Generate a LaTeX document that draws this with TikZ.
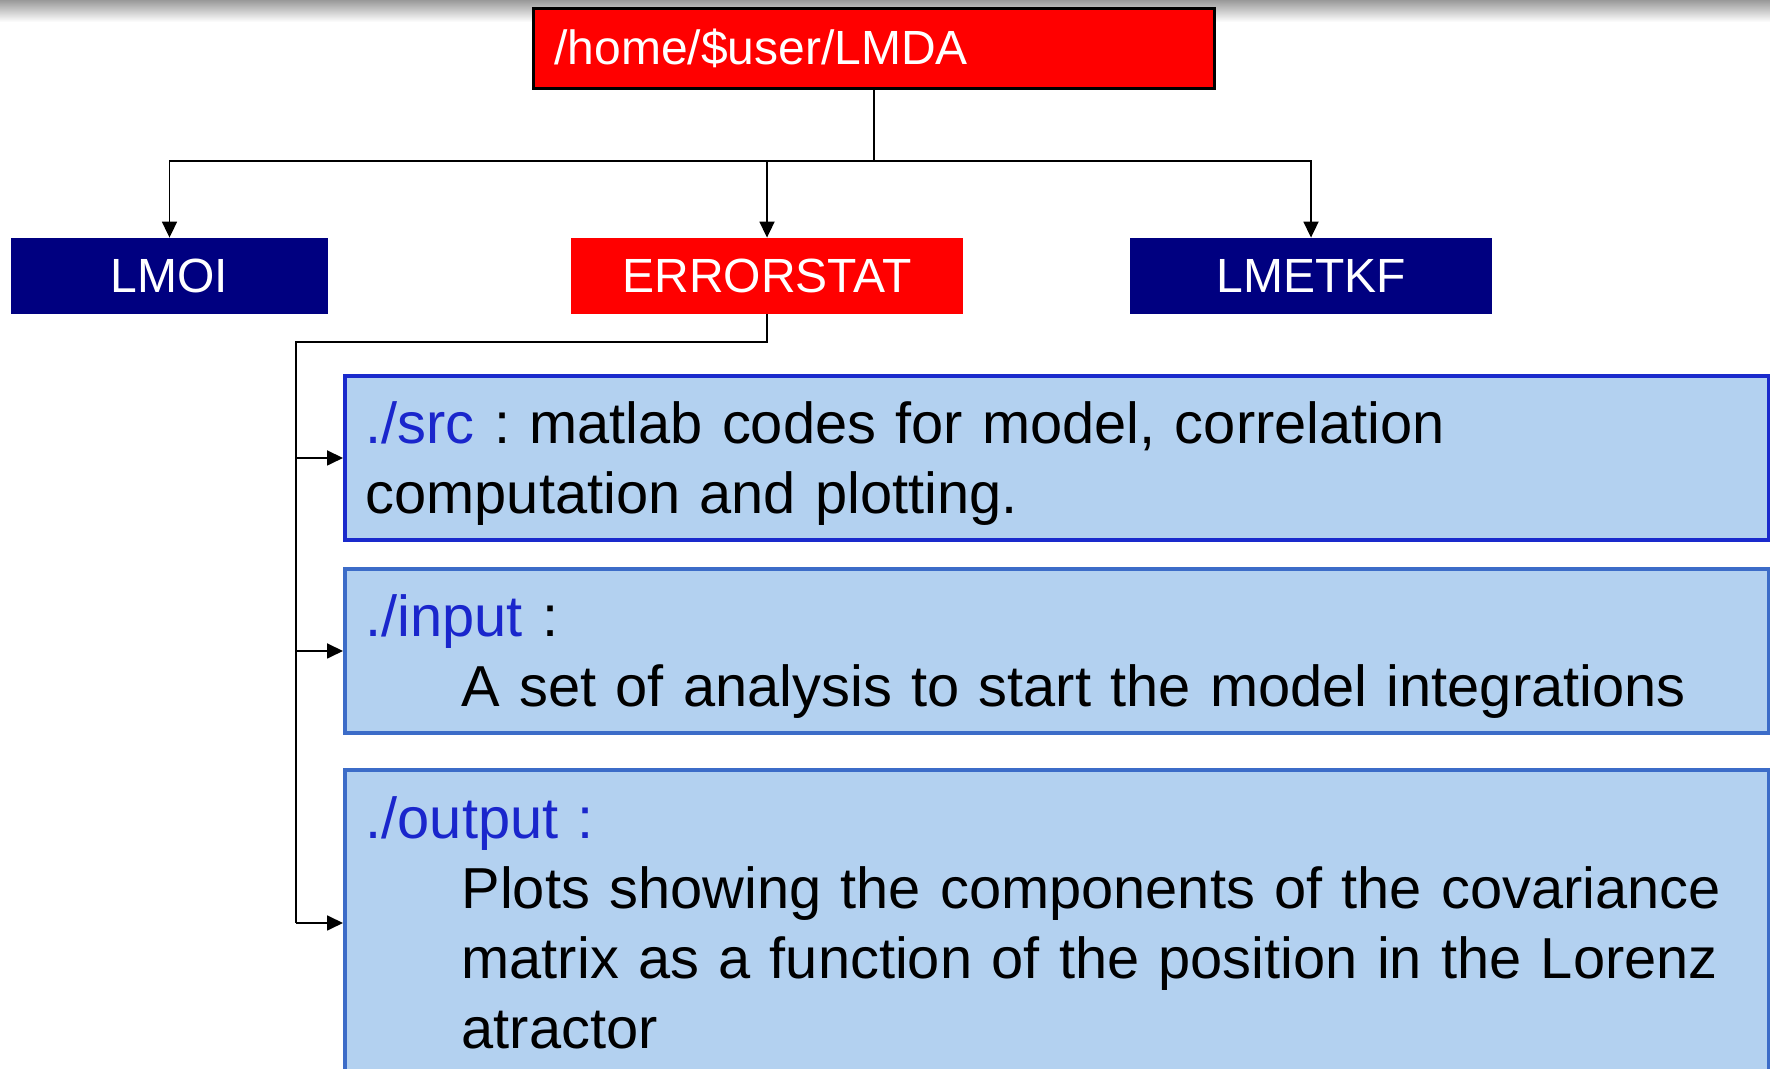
\documentclass[tikz,border=0pt]{standalone}
\usepackage{xcolor}
\usepackage{fontspec}
\setmainfont{Liberation Sans}
\usepackage{tikz}
\usetikzlibrary{arrows.meta}
\definecolor{dir_red}{HTML}{FF0000}
\definecolor{dir_navy}{HTML}{000080}
\definecolor{path_blue}{HTML}{1A26CC}
\definecolor{box_fill}{HTML}{B3D1F0}
\definecolor{box_line}{HTML}{3C6CC8}
\definecolor{box_line_dark}{HTML}{1A2ACC}
\newcommand{\dirpath}[1]{\textcolor{path_blue}{#1}}
\newcommand{\firststrut}{\rule{0pt}{26.5pt}}
\frenchspacing

\begin{document}
\begin{tikzpicture}[x=0.5pt, y=0.5pt,
        dir/.style={text=white, font=\fontsize{24}{28}\selectfont, minimum height=38pt, inner sep=0pt},
        info/.style={fill=box_fill, draw=box_line, line width=2pt, anchor=north west, minimum width=712pt,
            text width=691.4pt, inner xsep=10.3pt, inner ysep=0pt, align=left, font=\fontsize{28.9}{35}\selectfont},
        link/.style={line width=0.9pt, -{Triangle[length=8pt,width=7.5pt]}}]
                \useasboundingbox (0,0) rectangle (1770,1069);
                \shade[top color=black!40, bottom color=white] (0,1047) rectangle (1770,1069);
                \node[dir, fill=dir_red, draw=black, line width=1.5pt, anchor=north west, minimum width=340.5pt,
                    minimum height=40pt, text width=319.5pt, inner xsep=10.5pt, align=left] (root) at (532,1062) {/home/\$user/LMDA};
                \node[dir, fill=dir_navy, minimum width=158.5pt] (lmoi) at (169.5,793) {LMOI};
                \node[dir, fill=dir_red, minimum width=196pt] (errstat) at (767,793) {ERRORSTAT};
                \node[dir, fill=dir_navy, minimum width=181pt] (lmetkf) at (1311,793) {LMETKF};
                \node[info, draw=box_line_dark, minimum height=82pt] (src) at (343,695)
                    {\firststrut\dirpath{./src} : matlab codes for model, correlation\\computation and plotting.};
                \node[info, minimum height=82pt] (inp) at (343,502)
                    {\firststrut\dirpath{./input} :\\\hspace*{48pt}A set of analysis to start the model integrations};
                \node[info, minimum height=153pt] (out) at (343,301)
                    {\dirpath{./output :}\\\hspace*{48pt}Plots showing the components of the covariance\\
                     \hspace*{48pt}matrix as a function of the position in the Lorenz\\\hspace*{48pt}atractor};
                \coordinate (bus) at (873,908);
                \coordinate (spine) at (296,727);
                \foreach \d in {lmoi,errstat,lmetkf}
                    \draw[link] (root.south) |- (bus) -| (\d.north);
                \draw[line width=0.9pt] (errstat.south) |- (spine) -- (spine |- out.west);
                \foreach \b in {src,inp,out}
                    \draw[link] (spine |- \b.west) -- (\b.west);
            \end{tikzpicture}
\end{document}
